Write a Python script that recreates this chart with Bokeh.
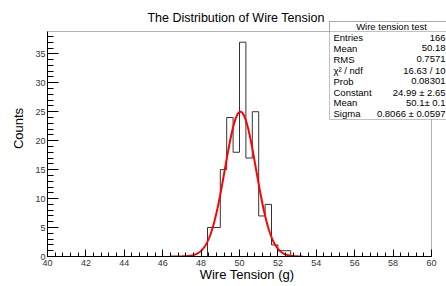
import numpy as np
from bokeh.plotting import figure
from bokeh.models import Range1d, SingleIntervalTicker, Label, BoxAnnotation
from bokeh.embed import file_html
from bokeh.resources import INLINE

# ---- data ----
n_bins = 60
x_lo, x_hi = 40.0, 60.0
y_hi = 38.85                   # frame top (1.05 x max)
first_filled_bin = 25          # bin starting at 48.33
filled_counts = [5, 5, 15, 24, 18, 37, 17, 25, 7, 9, 2, 1, 1]

fit_constant = 24.99
fit_mean = 50.05
fit_sigma = 0.8066
fit_from, fit_to = 46.4, 53.3

stat_title = "Wire tension test"
stat_names = ["Entries", "Mean", "RMS", "\u03c7\u00b2 / ndf", "Prob", "Constant", "Mean", "Sigma"]
stat_values = ["166", "50.18", "0.7571", "16.63 / 10", "0.08301", "24.99 \u00b1 2.65", "50.1\u00b1 0.1", "0.8066 \u00b1 0.0597"]

title_text = "The Distribution of Wire Tension"
x_title = "Wire Tension (g)"
y_title = "Counts"

# ---- build ----
counts = [0] * n_bins
for i, c in enumerate(filled_counts):
    counts[first_filled_bin + i] = c
edges = np.linspace(x_lo, x_hi, n_bins + 1)
step_y = counts + [0]

FONT = "Liberation Sans"
W, H = 446, 286
ML, MB = 47, 30
frame_w_px = W - ML           # frame runs to the right / top canvas edges
frame_h_px = H - MB
px_per_x = 384.0 / (x_hi - x_lo)
px_per_y = 225.0 / y_hi

p = figure(width=W, height=H, output_backend="svg", toolbar_location=None,
           x_range=Range1d(x_lo, x_lo + frame_w_px / px_per_x),
           y_range=Range1d(0, frame_h_px / px_per_y),
           min_border_left=ML, min_border_right=0, min_border_top=0, min_border_bottom=MB,
           title=None)
p.background_fill_color = "white"
p.border_fill_color = "white"
p.outline_line_color = None
p.xgrid.grid_line_color = None
p.ygrid.grid_line_color = None

# frame box
p.add_layout(BoxAnnotation(left=x_lo, right=x_hi, bottom=0, top=y_hi,
                           fill_alpha=0, line_color="black", line_width=1))

p.step(edges, step_y, mode="after", line_color="#333333", line_width=1)

xf = np.linspace(fit_from, fit_to, 400)
yf = fit_constant * np.exp(-0.5 * ((xf - fit_mean) / fit_sigma) ** 2)
p.line(xf, yf, line_color="#ff0000", line_width=2)

for ax, interval, tin, mtin, bnd in ((p.xaxis, 2, 7, 4, (x_lo, x_hi)), (p.yaxis, 5, 11, 6, (0, y_hi))):
    ax.ticker = SingleIntervalTicker(interval=interval, num_minor_ticks=5)
    ax.bounds = bnd
    ax.major_tick_in = tin
    ax.major_tick_out = 0
    ax.minor_tick_in = mtin
    ax.minor_tick_out = 0
    ax.axis_line_color = "black"
    ax.major_tick_line_color = "black"
    ax.minor_tick_line_color = "black"
    ax.major_label_text_font = FONT
    ax.major_label_text_font_size = "9px"
    ax.major_label_text_color = "#333333"
    ax.axis_label_text_font = FONT
    ax.axis_label_text_font_size = "13px"
    ax.axis_label_text_font_style = "normal"
    ax.axis_label_text_color = "black"

p.xaxis.major_label_standoff = 3
p.yaxis.major_label_standoff = 2
p.xaxis.axis_label = x_title
p.yaxis.axis_label = y_title
p.xaxis.axis_label_standoff = -2
p.yaxis.axis_label_standoff = 6

# title inside the (extended) frame, frame-relative screen units
p.add_layout(Label(x=188.5, y=239, x_units="screen", y_units="screen", text=title_text,
                   text_align="center", text_baseline="alphabetic",
                   text_font=FONT, text_font_size="12.5px", text_color="black"))

# stats box
p.add_layout(BoxAnnotation(left=282, right=402, top=235, bottom=137,
                           left_units="screen", right_units="screen",
                           top_units="screen", bottom_units="screen",
                           fill_color="white", fill_alpha=1.0,
                           line_color="#333333", line_width=1))
p.add_layout(BoxAnnotation(left=282, right=402, top=235, bottom=225,
                           left_units="screen", right_units="screen",
                           top_units="screen", bottom_units="screen",
                           fill_color="white", fill_alpha=1.0,
                           line_color="#333333", line_width=1))
p.add_layout(Label(x=344, y=230, x_units="screen", y_units="screen", text=stat_title,
                   text_align="center", text_baseline="middle",
                   text_font=FONT, text_font_size="9.5px", text_color="black"))
for i, (nm, vl) in enumerate(zip(stat_names, stat_values)):
    yy = 219 - 10.9 * i
    p.add_layout(Label(x=286, y=yy, x_units="screen", y_units="screen", text=nm,
                       text_align="left", text_baseline="middle",
                       text_font=FONT, text_font_size="9.5px", text_color="black"))
    p.add_layout(Label(x=398, y=yy, x_units="screen", y_units="screen", text=vl,
                       text_align="right", text_baseline="middle",
                       text_font=FONT, text_font_size="9.5px", text_color="black"))

open("out.html", "w").write(file_html(p, INLINE))
